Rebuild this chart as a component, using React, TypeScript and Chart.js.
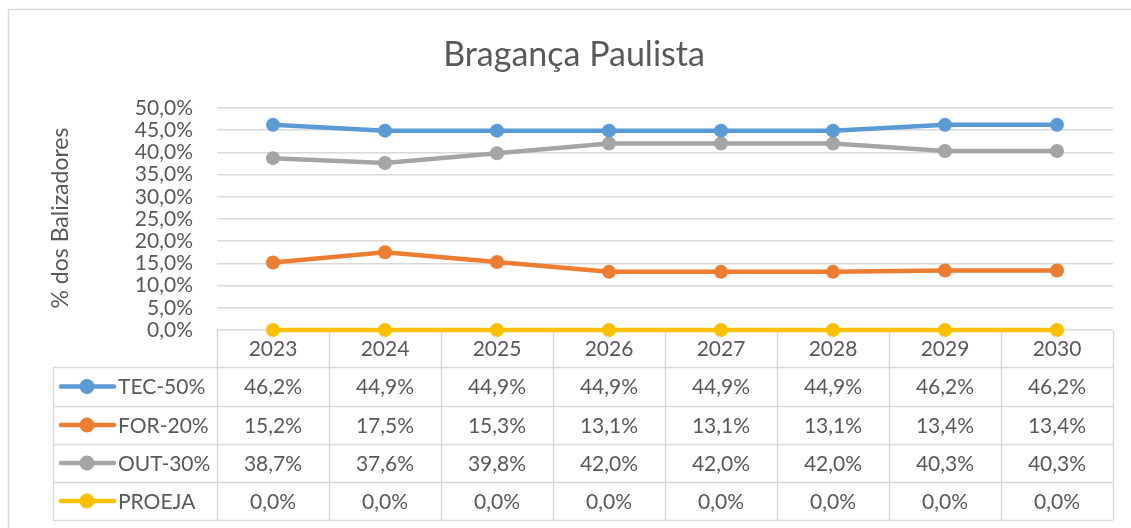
import React, { useEffect, useRef } from "react";
import { Chart, registerables } from "chart.js";

Chart.register(...registerables);

const title = "Bragança Paulista";
const yAxisTitle = "% dos Balizadores";
const years = ["2023", "2024", "2025", "2026", "2027", "2028", "2029", "2030"];
const seriesNames = ["TEC-50%", "FOR-20%", "OUT-30%", "PROEJA"];
const tec = [46.2, 44.9, 44.9, 44.9, 44.9, 44.9, 46.2, 46.2];
const forr = [15.2, 17.5, 15.3, 13.1, 13.1, 13.1, 13.4, 13.4];
const out = [38.7, 37.6, 39.8, 42.0, 42.0, 42.0, 40.3, 40.3];
const proeja = [0, 0, 0, 0, 0, 0, 0, 0];
const seriesColors = ["#5B9BD5", "#ED7D31", "#A5A5A5", "#FFC000"];
const yMax = 50;
const yStep = 5;

const FONT = "Lato, 'Liberation Sans', sans-serif";
const TEXT = "#595959";
const GRID = "#D9D9D9";

const fmt = (v: number) => v.toFixed(1).replace(".", ",") + "%";

export default function App() {
  const ref = useRef<HTMLCanvasElement | null>(null);
  useEffect(() => {
    const canvas = ref.current;
    if (!canvas) return;
    const seriesData = [tec, forr, out, proeja];

    const tablePlugin = {
      id: "excelTable",
      beforeDatasetsDraw(chart: any) {
        const ctx = chart.ctx;
        const area = chart.chartArea;
        const L = area.left;
        const R = area.right;
        const B = area.bottom;
        const n = years.length;
        const w = (R - L) / n;
        const rows = [367, 406, 444, 482, 520];
        const legendLeft = 53;
        ctx.save();
        ctx.strokeStyle = GRID;
        ctx.lineWidth = 1.5;
        ctx.beginPath();
        ctx.moveTo(8.5, 528);
        ctx.lineTo(8.5, 9.5);
        ctx.lineTo(1131, 9.5);
        ctx.stroke();
        for (let i = 0; i <= n; i++) {
          const x = Math.round(L + i * w) + 0.5;
          ctx.beginPath();
          ctx.moveTo(x, B);
          ctx.lineTo(x, rows[rows.length - 1]);
          ctx.stroke();
        }
        ctx.beginPath();
        ctx.moveTo(legendLeft + 0.5, rows[0]);
        ctx.lineTo(legendLeft + 0.5, rows[rows.length - 1]);
        ctx.stroke();
        for (const y of rows) {
          ctx.beginPath();
          ctx.moveTo(legendLeft, y + 0.5);
          ctx.lineTo(R, y + 0.5);
          ctx.stroke();
        }
        ctx.restore();
      },
      afterDraw(chart: any) {
        const ctx = chart.ctx;
        const area = chart.chartArea;
        const xs = chart.scales.x;
        const B = area.bottom;
        const rows = [367, 406, 444, 482, 520];
        ctx.save();
        ctx.fillStyle = TEXT;
        ctx.font = `34px ${FONT}`;
        ctx.textAlign = "center";
        ctx.textBaseline = "alphabetic";
        ctx.fillText(title, 574, 66);
        ctx.save();
        ctx.translate(68, 218);
        ctx.rotate(-Math.PI / 2);
        ctx.font = `23px ${FONT}`;
        ctx.textAlign = "center";
        ctx.textBaseline = "alphabetic";
        ctx.fillText(yAxisTitle, 0, 0);
        ctx.restore();
        ctx.font = `21px ${FONT}`;
        ctx.textAlign = "center";
        ctx.textBaseline = "middle";
        years.forEach((yr, i) => {
          ctx.fillText(yr, xs.getPixelForValue(i), (B + rows[0]) / 2 + 1);
        });
        seriesData.forEach((vals, r) => {
          const cy = (rows[r] + rows[r + 1]) / 2 + 1;
          vals.forEach((v, i) => {
            ctx.fillStyle = TEXT;
            ctx.textAlign = "center";
            ctx.fillText(fmt(v), xs.getPixelForValue(i), cy);
          });
          ctx.strokeStyle = seriesColors[r];
          ctx.lineWidth = 4.5;
          ctx.lineCap = "round";
          ctx.beginPath();
          ctx.moveTo(61, cy - 1);
          ctx.lineTo(114, cy - 1);
          ctx.stroke();
          ctx.fillStyle = seriesColors[r];
          ctx.beginPath();
          ctx.arc(87, cy - 1, 7.5, 0, Math.PI * 2);
          ctx.fill();
          ctx.fillStyle = TEXT;
          ctx.textAlign = "left";
          ctx.fillText(seriesNames[r], 118, cy);
        });
        ctx.restore();
      },
    };

    const chart = new Chart(canvas, {
      type: "line",
      data: {
        labels: years,
        datasets: seriesData.map((d, i) => ({
          label: seriesNames[i],
          data: d,
          borderColor: seriesColors[i],
          backgroundColor: seriesColors[i],
          pointBackgroundColor: seriesColors[i],
          pointBorderColor: seriesColors[i],
          borderWidth: 4.5,
          pointRadius: 7,
          pointBorderWidth: 0,
          tension: 0,
          clip: false as any,
          order: i === 2 ? 3 : i === 3 ? 0 : i === 0 ? 1 : 2,
        })),
      },
      options: {
        animation: false,
        responsive: false,
        devicePixelRatio: 1,
        layout: { padding: { left: 0, right: 18, top: 108, bottom: 198 } },
        plugins: {
          legend: { display: false },
          title: { display: false },
          tooltip: { enabled: false },
        },
        scales: {
          x: {
            type: "category",
            display: false,
            offset: true,
          },
          y: {
            min: 0,
            max: yMax,
            afterFit(scale: any) {
              scale.width = 217;
            },
            border: { display: false },
            grid: { color: GRID, lineWidth: 1.5, drawTicks: false },
            ticks: {
              stepSize: yStep,
              autoSkip: false,
              padding: 24,
              color: TEXT,
              font: { family: FONT, size: 21 },
              callback: (v: any) => fmt(Number(v)),
            },
          },
        },
      },
      plugins: [tablePlugin],
    });
    return () => chart.destroy();
  }, []);

  return (
    <div style={{ position: "fixed", left: 0, top: 0, width: 1131, height: 528, background: "#fff" }}>
      <canvas ref={ref} width={1131} height={528} style={{ width: 1131, height: 528, display: "block" }} />
    </div>
  );
}
